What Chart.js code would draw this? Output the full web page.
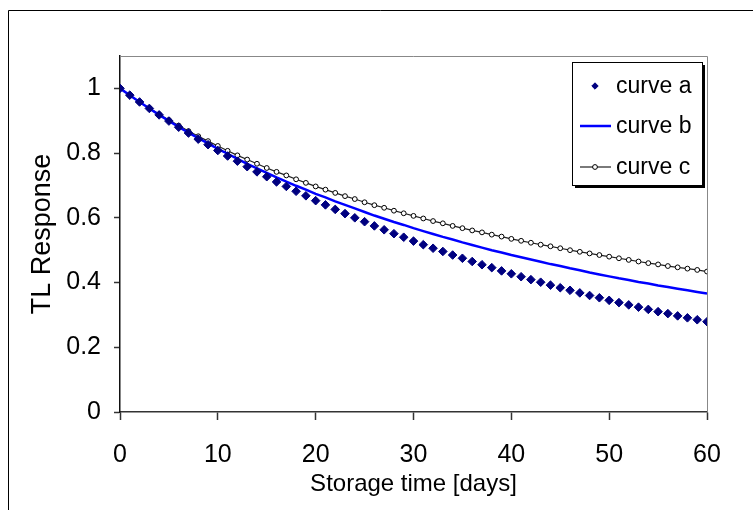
<!DOCTYPE html>
<html lang="en">
<head>
<meta charset="UTF-8" />
<title>TL Response vs Storage time</title>
<script src="https://cdn.jsdelivr.net/npm/chart.js"></script>
<style>
  body { margin: 0; background: #fff; }
  #wrap { width: 753px; height: 510px; }
</style>
</head>
<body>
<div id="wrap"><canvas id="tlChart" width="753" height="510"></canvas></div>
<script>
// storage time in days (one reading per day)
const days = [0, 1, 2, 3, 4, 5, 6, 7, 8, 9, 10, 11, 12, 13, 14, 15, 16, 17, 18, 19, 20,
  21, 22, 23, 24, 25, 26, 27, 28, 29, 30, 31, 32, 33, 34, 35, 36, 37, 38, 39, 40,
  41, 42, 43, 44, 45, 46, 47, 48, 49, 50, 51, 52, 53, 54, 55, 56, 57, 58, 59, 60];

// values
const curveA = [1.000, 0.979, 0.958, 0.938, 0.918, 0.899, 0.880, 0.862, 0.843, 0.826, 0.808,
  0.791, 0.775, 0.758, 0.742, 0.727, 0.711, 0.697, 0.682, 0.668, 0.653,
  0.640, 0.626, 0.613, 0.600, 0.588, 0.575, 0.563, 0.551, 0.540, 0.528,
  0.517, 0.506, 0.496, 0.485, 0.475, 0.465, 0.455, 0.446, 0.436, 0.427,
  0.418, 0.409, 0.401, 0.392, 0.384, 0.376, 0.368, 0.360, 0.353, 0.345,
  0.338, 0.331, 0.324, 0.317, 0.310, 0.304, 0.297, 0.291, 0.285, 0.279];

const curveB = [1.000, 0.979, 0.958, 0.938, 0.918, 0.899, 0.881, 0.863, 0.846, 0.830, 0.813,
  0.798, 0.782, 0.767, 0.753, 0.739, 0.725, 0.712, 0.699, 0.687, 0.674,
  0.663, 0.651, 0.640, 0.629, 0.618, 0.607, 0.597, 0.587, 0.578, 0.568,
  0.559, 0.550, 0.541, 0.533, 0.524, 0.516, 0.508, 0.500, 0.493, 0.485,
  0.478, 0.471, 0.464, 0.457, 0.451, 0.444, 0.438, 0.431, 0.425, 0.419,
  0.413, 0.408, 0.402, 0.397, 0.391, 0.386, 0.381, 0.376, 0.371, 0.366];

const curveC = [1.000, 0.979, 0.958, 0.939, 0.920, 0.902, 0.885, 0.868, 0.852, 0.837, 0.822,
  0.807, 0.793, 0.780, 0.767, 0.754, 0.742, 0.731, 0.719, 0.708, 0.697,
  0.687, 0.677, 0.667, 0.658, 0.648, 0.639, 0.631, 0.622, 0.614, 0.606,
  0.598, 0.590, 0.583, 0.575, 0.568, 0.561, 0.555, 0.548, 0.542, 0.535,
  0.529, 0.523, 0.517, 0.512, 0.506, 0.500, 0.495, 0.490, 0.485, 0.480,
  0.475, 0.470, 0.465, 0.460, 0.456, 0.451, 0.447, 0.443, 0.439, 0.434];

const seriesNames = ['curve a', 'curve b', 'curve c'];
const xTicks = [0, 10, 20, 30, 40, 50, 60];
const yTicks = [0, 0.2, 0.4, 0.6, 0.8, 1];
const xTitle = 'Storage time [days]';
const yTitle = 'TL Response';

const FONT = '"Liberation Sans", Arial, sans-serif';
Chart.defaults.font.family = FONT;
Chart.defaults.color = '#000';

function toPoints(values) {
  return days.map((d, i) => ({ x: d, y: values[i] }));
}

// white page, outer frame and the grey top/right border of the plot
const framePlugin = {
  id: 'frame',
  beforeDraw(chart) {
    const ctx = chart.ctx;
    ctx.save();
    ctx.fillStyle = '#fff';
    ctx.fillRect(0, 0, chart.width, chart.height);
    ctx.strokeStyle = '#000';
    ctx.lineWidth = 1;
    ctx.beginPath();
    ctx.moveTo(8.5, chart.height);
    ctx.lineTo(8.5, 10.5);
    ctx.lineTo(chart.width, 10.5);
    ctx.stroke();
    ctx.restore();
  },
  beforeDatasetsDraw(chart) {
    const { ctx, chartArea: a } = chart;
    ctx.save();
    ctx.strokeStyle = '#888';
    ctx.lineWidth = 1;
    ctx.beginPath();
    ctx.moveTo(a.left, a.top + 0.5);
    ctx.lineTo(a.right + 0.5, a.top + 0.5);
    ctx.lineTo(a.right + 0.5, a.bottom);
    ctx.stroke();
    ctx.restore();
  }
};

// boxed legend with drop shadow, top right inside the plot
const legendPlugin = {
  id: 'boxLegend',
  afterDraw(chart) {
    const ctx = chart.ctx;
    const bx = 572, by = 62, bw = 130, bh = 123;
    ctx.save();
    ctx.fillStyle = '#000';
    ctx.fillRect(bx + 3, by + 3, bw, bh);
    ctx.fillStyle = '#fff';
    ctx.fillRect(bx, by, bw, bh);
    ctx.strokeStyle = '#000';
    ctx.lineWidth = 1;
    ctx.strokeRect(bx + 0.5, by + 0.5, bw, bh);

    const rows = [86, 126, 167];
    const sx = 595;
    chart.data.datasets.forEach((ds, i) => {
      const y = rows[i];
      if (ds.showLine !== false) {
        ctx.strokeStyle = ds.borderColor;
        ctx.lineWidth = ds.borderWidth;
        ctx.beginPath();
        ctx.moveTo(580, y);
        ctx.lineTo(611, y);
        ctx.stroke();
      }
      if (ds.pointRadius > 0) {
        ctx.fillStyle = ds.pointBackgroundColor;
        ctx.strokeStyle = ds.pointBorderColor;
        ctx.lineWidth = ds.pointBorderWidth;
        Chart.helpers.drawPoint(ctx, {
          pointStyle: ds.pointStyle,
          radius: ds.pointStyle === 'rectRot' ? 3.2 : ds.pointRadius,
          rotation: 0,
          borderWidth: ds.pointBorderWidth
        }, sx, y);
      }
      ctx.fillStyle = '#000';
      ctx.font = '23px ' + FONT;
      ctx.textBaseline = 'middle';
      ctx.textAlign = 'left';
      ctx.fillText(ds.label, 616, y + 1);
    });
    ctx.restore();
  }
};

new Chart(document.getElementById('tlChart'), {
  type: 'scatter',
  data: {
    datasets: [
      {
        label: seriesNames[0],
        data: toPoints(curveA),
        showLine: false,
        pointStyle: 'rectRot',
        pointRadius: 4.3,
        pointBackgroundColor: '#000080',
        pointBorderColor: '#000080',
        pointBorderWidth: 1,
        borderColor: '#000080'
      },
      {
        label: seriesNames[1],
        data: toPoints(curveB),
        showLine: true,
        borderColor: '#0000ff',
        borderWidth: 2.5,
        pointRadius: 0,
        tension: 0
      },
      {
        label: seriesNames[2],
        data: toPoints(curveC),
        showLine: true,
        borderColor: '#222',
        borderWidth: 1.2,
        pointStyle: 'circle',
        pointRadius: 2.4,
        pointBackgroundColor: '#fff',
        pointBorderColor: '#000',
        pointBorderWidth: 1,
        tension: 0
      }
    ]
  },
  options: {
    responsive: false,
    animation: false,
    layout: { padding: { left: 0, top: 56, right: 46, bottom: 0 } },
    plugins: {
      legend: { display: false },
      tooltip: { enabled: false }
    },
    scales: {
      x: {
        type: 'linear',
        min: 0,
        max: 60,
        afterFit: s => { s.height = 98; },
        afterBuildTicks: s => { s.ticks = xTicks.map(v => ({ value: v })); },
        grid: { drawOnChartArea: false, drawTicks: true, tickLength: 8, tickColor: '#333', tickWidth: 1.5 },
        border: { display: true, color: '#333', width: 1.5 },
        ticks: { font: { size: 25 }, padding: 20, maxRotation: 0, callback: v => String(v) },
        title: { display: true, text: xTitle, font: { size: 24 }, padding: { top: 0, bottom: 11 } }
      },
      y: {
        min: 0,
        max: 1.1,
        afterFit: s => { s.width = 120; },
        afterBuildTicks: s => { s.ticks = yTicks.map(v => ({ value: v })); },
        grid: { drawOnChartArea: false, drawTicks: true, tickLength: 6, tickColor: '#333', tickWidth: 1.5 },
        border: { display: true, color: '#111', width: 1.5 },
        ticks: { font: { size: 25 }, padding: 13, callback: v => String(+v.toFixed(1)) },
        title: { display: true, text: yTitle, font: { size: 27 }, padding: { top: 26, bottom: 0 } }
      }
    }
  },
  plugins: [framePlugin, legendPlugin]
});
</script>
</body>
</html>
